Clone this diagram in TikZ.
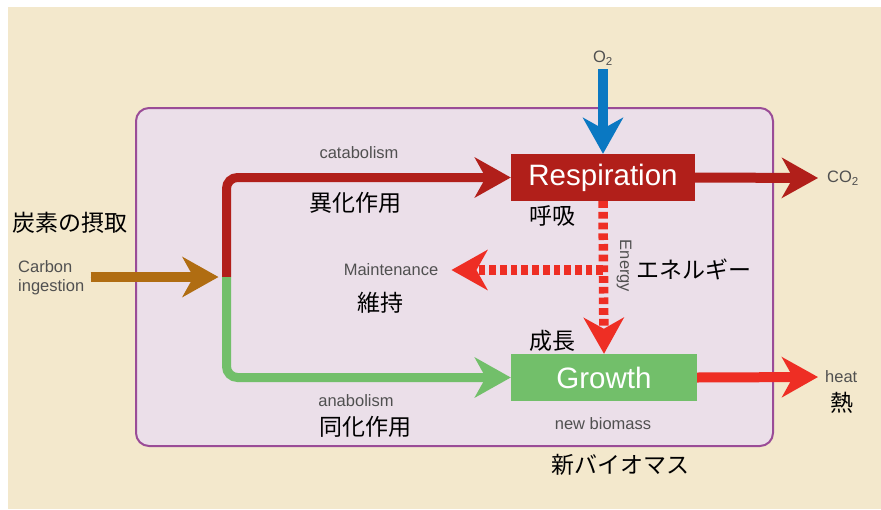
\documentclass[tikz,border=0pt]{standalone}
\usepackage{fontspec}
\setmainfont{Liberation Sans}
\newfontfamily\jp{Noto Sans CJK JP}
\usetikzlibrary{arrows.meta}
\definecolor{bg}{HTML}{F3E8CC}
\definecolor{boxfill}{HTML}{EBDFE9}
\definecolor{boxedge}{HTML}{9A4C97}
\definecolor{darkred}{HTML}{B11F1A}
\definecolor{brightred}{HTML}{EE2E24}
\definecolor{leaf}{HTML}{72BF6A}
\definecolor{sky}{HTML}{0A78C2}
\definecolor{ochre}{HTML}{B06D12}
\definecolor{labgray}{HTML}{505050}
\tikzset{
  bigtip/.style={-{Stealth[length=36pt,width=40pt,inset=11pt]}},
  flow/.style={bigtip, line width=9pt, preaction={draw, -, shorten >=18pt}},
  dashflow/.style={bigtip, line width=9.5pt, brightred, dash pattern=on 6.7pt off 4pt},
  lab/.style={font=\fontsize{16.5}{19}\selectfont, text=labgray, inner sep=0pt},
  jlab/.style={font=\jp\fontsize{23}{25}\selectfont, text=black, inner sep=0pt},
  procbox/.style={minimum height=47pt, inner sep=0pt, text=white, font=\fontsize{29.5}{30}\selectfont}
}
\begin{document}
\begin{tikzpicture}[x=1pt,y=-1pt]
\useasboundingbox (0,0) rectangle (881,509);
\fill[bg] (8,7) rectangle (881,509);
\draw[boxedge, fill=boxfill, line width=2pt, rounded corners=13pt] (136,108) rectangle (773,446);

% process boxes
\node[procbox, fill=darkred, minimum width=184pt] (resp) at (603,177.5) {Respiration};
\node[procbox, fill=leaf, minimum width=186pt] (grow) at (604,377.5) {Growth};

% labels
\node[lab] (o2) at (603,58) {O\textsubscript{2}};
\node[lab, anchor=west] (co2) at (827,178) {CO\textsubscript{2}};
\node[lab, anchor=west] (heat) at (825,377) {heat};
\node[jlab] (netsu) at (842,403) {熱};
\node[lab] (cata) at (359,153) {catabolism};
\node[jlab] (ika) at (355,203) {異化作用};
\node[jlab] (kokyu) at (552,216) {呼吸};
\node[lab, rotate=-90] (energy) at (624,266) {Energy};
\node[jlab] (ene) at (694,269) {エネルギー};
\node[lab] (maint) at (391,270) {Maintenance};
\node[jlab] (iji) at (380,303) {維持};
\node[jlab] (seicho) at (552,341) {成長};
\node[lab] (ana) at (356,401) {anabolism};
\node[jlab] (doka) at (365,427) {同化作用};
\node[lab] (nbio) at (603,424) {new biomass};
\node[jlab] (shin) at (620,465) {新バイオマス};
\node[jlab] (tanso) at (70,223) {炭素の摂取};
\node[lab, align=left, anchor=west] (carbon) at (18,278) {Carbon\\ingestion};

% junction and free ends
\coordinate (j) at (226.5,277);
\coordinate (cin) at (90.5,277);
\coordinate (mj) at (603,270);
\coordinate (o2in) at (603,69);

% flows
\draw[flow, darkred, rounded corners=11pt] (j) |- (resp.west);
\draw[flow, leaf, rounded corners=11pt] (j) |- (grow.west);
\draw[flow, ochre, line width=10pt] (cin) -- ([xshift=-8pt]j);
\draw[flow, sky, line width=10pt] (o2in) -- (resp.north);
\draw[flow, darkred, line width=10pt] (resp.east) -- ([xshift=-9pt]co2.west);
\draw[flow, brightred, line width=10pt] (grow.east) -- ([xshift=-7pt]heat.west);
\draw[dashflow] (resp.south) -- (grow.north);
\draw[dashflow] (mj) -- ([xshift=13pt]maint.east);
\end{tikzpicture}
\end{document}
